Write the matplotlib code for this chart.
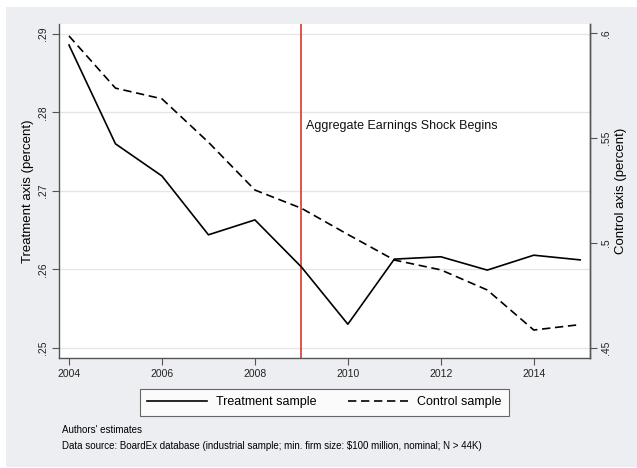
import matplotlib
matplotlib.use("Agg")
import matplotlib.pyplot as plt
from matplotlib.patches import Rectangle
from matplotlib.lines import Line2D

plt.rcParams['font.family'] = ['Liberation Sans', 'DejaVu Sans']

years = [2004, 2005, 2006, 2007, 2008, 2009, 2010, 2011, 2012, 2013, 2014, 2015]
treatment = [0.2886, 0.2760, 0.2719, 0.2644, 0.2663, 0.2603, 0.2530, 0.2613, 0.2616, 0.2599, 0.2618, 0.2612]
control = [0.5987, 0.5738, 0.5687, 0.5480, 0.5252, 0.5165, 0.5040, 0.4918, 0.4871, 0.4775, 0.4584, 0.4610]
shock_year = 2009
left_ticks = [0.25, 0.26, 0.27, 0.28, 0.29]
left_labels = ['.25', '.26', '.27', '.28', '.29']
right_ticks = [0.45, 0.50, 0.55, 0.60]
right_labels = ['.45', '.5', '.55', '.6']
x_ticks = [2004, 2006, 2008, 2010, 2012, 2014]

W, H = 637, 468
fig = plt.figure(figsize=(W / 100, H / 100), dpi=100)
fig.patch.set_facecolor('white')
bg = '#eceef1'
fig.patches.append(Rectangle((6 / W, 1 - 467 / H), 631 / W, 460 / H,
                             transform=fig.transFigure, facecolor=bg,
                             edgecolor='none', zorder=-10))

l, r, t, b = 59, 590, 24, 357.7
ax = fig.add_axes([l / W, 1 - b / H, (r - l) / W, (b - t) / H])
ax.set_facecolor('white')
ax.set_xlim(2003.785, 2015.21)
ax.set_ylim(0.24873, 0.29128)

axis_col = '#555555'
ax.spines['top'].set_visible(False)
for s in ['left', 'bottom', 'right']:
    ax.spines[s].set_color(axis_col)
    ax.spines[s].set_linewidth(1.0)

ax.set_yticks(left_ticks)
ax.set_yticklabels(left_labels, rotation=90, va='center')
ax.set_xticks(x_ticks)
ax.tick_params(axis='both', labelsize=7.5, length=5, width=0.8, color=axis_col,
               pad=3, labelcolor='#222222')
ax.grid(axis='y', color='#e6e6e6', linewidth=1.0)
ax.set_axisbelow(True)

ax.plot(years, treatment, color='black', linewidth=1.2, zorder=3)
ax.axvline(shock_year, color='#d9382c', linewidth=1.2, zorder=2)
ax.text(2009.1, 0.27827, 'Aggregate Earnings Shock Begins', fontsize=9,
        va='center', ha='left', color='#111111')
ax.set_ylabel('Treatment axis (percent)', fontsize=9.5, labelpad=3)

ax2 = ax.twinx()
ax2.set_ylim(0.4452, 0.6044)
ax2.plot(years, control, color='black', linewidth=1.2, dashes=(5, 2.8), zorder=3)
ax2.set_yticks(right_ticks)
ax2.set_yticklabels(right_labels, rotation=90, va='center')
ax2.tick_params(axis='y', labelsize=7.5, length=5, width=0.8, color=axis_col,
                pad=3, labelcolor='#222222')
for s in ['top', 'left', 'bottom']:
    ax2.spines[s].set_visible(False)
ax2.spines['right'].set_color(axis_col)
ax2.spines['right'].set_linewidth(1.0)
ax2.set_ylabel('Control axis (percent)', fontsize=9.5, labelpad=3)

handles = [Line2D([], [], color='black', linewidth=1.2),
           Line2D([], [], color='black', linewidth=1.2, dashes=(5, 2.8))]
leg = fig.legend(handles, ['Treatment sample', 'Control sample'], ncol=2,
                 loc='center',
                 bbox_to_anchor=((137 + 512) / 2 / W, 1 - (387.7 + 417.3) / 2 / H),
                 fontsize=9, frameon=True, fancybox=False, handlelength=4.8,
                 borderpad=0.6, handletextpad=0.72, columnspacing=2.5,
                 borderaxespad=0)
leg.get_frame().set_edgecolor('#444444')
leg.get_frame().set_linewidth(0.8)
leg.get_frame().set_facecolor('white')

fig.text(62 / W, 1 - 430 / H, "Authors' estimates", fontsize=7, va='center', ha='left')
fig.text(62 / W, 1 - 445.7 / H,
         'Data source: BoardEx database (industrial sample; min. firm size: $100 million, nominal; N > 44K)',
         fontsize=7, va='center', ha='left')

fig.savefig('out.png', dpi=100, facecolor='white')
